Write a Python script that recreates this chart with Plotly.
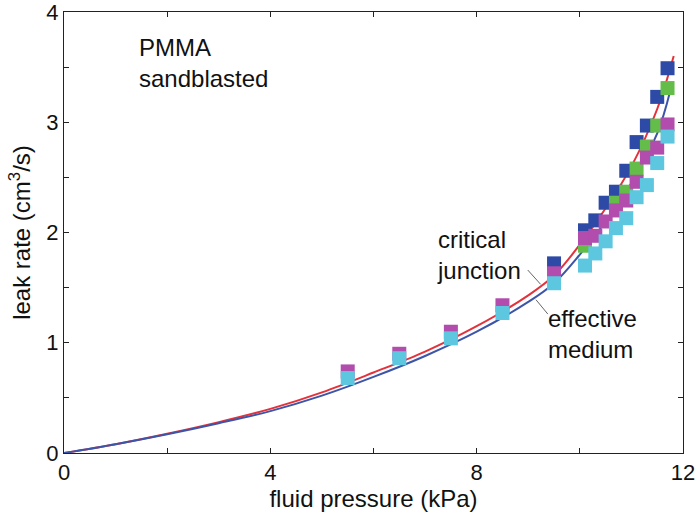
import plotly.graph_objects as go

# Measured data (fluid pressure kPa, leak rate cm^3/s)
blue_x = [9.5, 10.1, 10.3, 10.5, 10.7, 10.9, 11.1, 11.3, 11.5, 11.7]
blue_y = [1.72, 2.02, 2.11, 2.27, 2.37, 2.56, 2.82, 2.97, 3.23, 3.49]

green_x = [10.1, 10.7, 10.9, 11.1, 11.3, 11.5, 11.7]
green_y = [1.88, 2.27, 2.37, 2.58, 2.78, 2.97, 3.31]

magenta_x = [5.5, 6.5, 7.5, 8.5, 9.5, 10.1, 10.3, 10.5, 10.7, 10.9, 11.1, 11.3, 11.5, 11.7]
magenta_y = [0.74, 0.90, 1.10, 1.34, 1.63, 1.95, 1.97, 2.10, 2.20, 2.29, 2.46, 2.68, 2.77, 2.98]

cyan_x = [5.5, 6.5, 7.5, 8.5, 9.5, 10.1, 10.3, 10.5, 10.7, 10.9, 11.1, 11.3, 11.5, 11.7]
cyan_y = [0.68, 0.86, 1.04, 1.27, 1.54, 1.70, 1.81, 1.92, 2.04, 2.13, 2.32, 2.43, 2.63, 2.87]

# Theory curves
crit_x = [0, 1, 2, 3, 4, 5, 6, 7, 8, 9, 9.5, 10, 10.5, 11, 11.5, 11.82]
crit_y = [0, 0.08, 0.175, 0.28, 0.40, 0.55, 0.73, 0.92, 1.15, 1.43, 1.61, 1.89, 2.22, 2.60, 3.12, 3.60]

eff_x = [0, 1, 2, 3, 4, 5, 6, 7, 8, 9, 9.5, 10, 10.5, 11, 11.5, 11.75]
eff_y = [0, 0.08, 0.17, 0.27, 0.38, 0.52, 0.69, 0.88, 1.10, 1.37, 1.54, 1.80, 2.10, 2.45, 2.90, 3.28]

x_tickvals = [0, 4, 8, 12]
y_tickvals = [0, 1, 2, 3, 4]

FONT = "Liberation Sans, Arial, Helvetica, sans-serif"
TXT = 24

fig = go.Figure()
fig.add_trace(go.Scatter(x=crit_x, y=crit_y, mode="lines",
                         line=dict(color="#E3323B", width=2, shape="spline"),
                         name="critical junction"))
fig.add_trace(go.Scatter(x=eff_x, y=eff_y, mode="lines",
                         line=dict(color="#3D55A8", width=2, shape="spline"),
                         name="effective medium"))

for xs, ys, col in [(blue_x, blue_y, "#2D4BA6"),
                    (green_x, green_y, "#63BD48"),
                    (magenta_x, magenta_y, "#B24DAD"),
                    (cyan_x, cyan_y, "#5DC7E0")]:
    fig.add_trace(go.Scatter(x=xs, y=ys, mode="markers",
                             marker=dict(symbol="square", size=14, color=col,
                                         line=dict(width=0))))

fig.add_annotation(x=1.42, y=3.82, xref="x", yref="y", xanchor="left", yanchor="top",
                   text="PMMA<br>sandblasted", showarrow=False, align="left",
                   font=dict(size=TXT, color="#111", family=FONT))
fig.add_annotation(x=7.2, y=1.80, xref="x", yref="y", xanchor="left", yanchor="middle",
                   text="critical<br>junction", showarrow=False, align="left",
                   font=dict(size=TXT, color="#111", family=FONT))
fig.add_annotation(x=9.34, y=1.08, xref="x", yref="y", xanchor="left", yanchor="middle",
                   text="effective<br>medium", showarrow=False, align="left",
                   font=dict(size=TXT, color="#111", family=FONT))

fig.add_shape(type="line", x0=8.99, y0=1.66, x1=9.24, y1=1.53,
              line=dict(color="#666", width=1))
fig.add_shape(type="line", x0=9.15, y0=1.39, x1=9.38, y1=1.26,
              line=dict(color="#666", width=1))

fig.update_layout(
    width=695, height=515,
    margin=dict(l=64, r=12, t=12, b=62, autoexpand=False),
    paper_bgcolor="white", plot_bgcolor="white",
    showlegend=False,
    font=dict(family=FONT, color="#111"),
)
fig.update_xaxes(range=[0, 12], tickvals=x_tickvals,
                 ticks="inside", ticklen=5, tickcolor="#222",
                 minor=dict(dtick=2, tick0=0, ticks="inside", ticklen=5, tickcolor="#222"),
                 showline=True, linecolor="#222", linewidth=1, mirror="ticks",
                 showgrid=False, zeroline=False, automargin=False,
                 ticklabeloverflow="allow",
                 tickfont=dict(size=22, family=FONT),
                 title=dict(text="fluid pressure (kPa)", font=dict(size=TXT, family=FONT), standoff=0))
fig.update_yaxes(range=[0, 4], tickvals=y_tickvals,
                 ticks="inside", ticklen=5, tickcolor="#222",
                 minor=dict(dtick=0.5, tick0=0, ticks="inside", ticklen=5, tickcolor="#222"),
                 showline=True, linecolor="#222", linewidth=1, mirror="ticks",
                 showgrid=False, zeroline=False, automargin=False,
                 ticklabeloverflow="allow",
                 tickfont=dict(size=22, family=FONT),
                 title=dict(text="leak rate (cm<sup>3</sup>/s)", font=dict(size=TXT, family=FONT), standoff=8))

fig.write_html("out.html", config={"displayModeBar": False},
               post_script="document.body.style.margin='0';")
